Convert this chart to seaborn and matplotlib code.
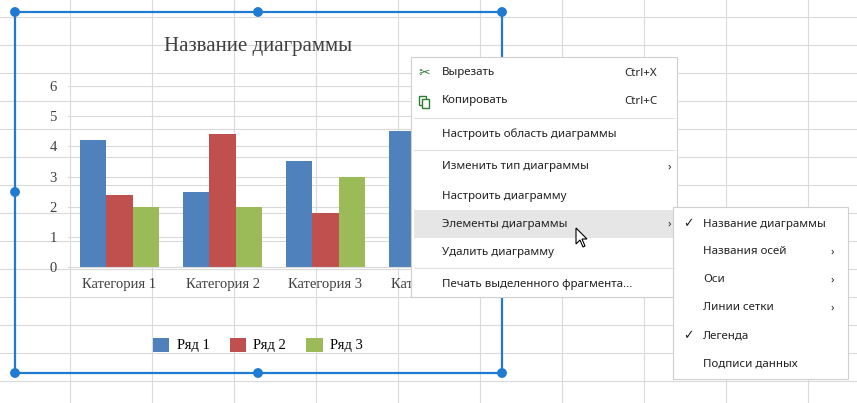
import matplotlib
matplotlib.use("Agg")
import matplotlib.pyplot as plt
import seaborn as sns
import pandas as pd
from matplotlib.patches import Rectangle, Circle, Polygon

categories = ["Категория 1", "Категория 2", "Категория 3", "Категория 4"]
series_names = ["Ряд 1", "Ряд 2", "Ряд 3"]
values_1 = [4.2, 2.5, 3.5, 4.5]
values_2 = [2.4, 4.4, 1.8, 2.8]
values_3 = [2.0, 2.0, 3.0, 5.0]
colors = ["#4f81bd", "#c0504d", "#9bbb59"]

menu_items = ["Вырезать", "Копировать", "Настроить область диаграммы",
              "Изменить тип диаграммы", "Настроить диаграмму",
              "Элементы диаграммы", "Удалить диаграмму",
              "Печать выделенного фрагмента..."]
menu_y = [73, 101, 134, 167, 196, 224, 252, 285]
shortcuts = {"Вырезать": "Ctrl+X", "Копировать": "Ctrl+C"}
sub_items = ["Название диаграммы", "Названия осей", "Оси", "Линии сетки",
             "Легенда", "Подписи данных"]
sub_y = [224, 252, 280, 308, 336, 364]

df = pd.DataFrame({
    "cat": categories * 3,
    "series": [s for s in series_names for _ in categories],
    "val": values_1 + values_2 + values_3,
})

W, H = 857, 403
fig = plt.figure(figsize=(W / 100, H / 100), dpi=100)

# spreadsheet background
bg = fig.add_axes([0, 0, 1, 1], zorder=0)
bg.set_xlim(0, W); bg.set_ylim(H, 0); bg.axis("off")
for x in range(70, W, 82):
    bg.plot([x, x], [0, H], color="#dadada", lw=0.8)
for y in range(17, H, 28):
    bg.plot([0, W], [y, y], color="#dadada", lw=0.8)
bg.add_patch(Rectangle((15, 12), 487, 361, facecolor="white", edgecolor="none"))

# chart
ax = fig.add_axes([68 / W, (H - 267) / H, (480 - 68) / W, (267 - 86) / H], zorder=1)
sns.barplot(data=df, x="cat", y="val", hue="series", palette=colors,
            width=0.76, saturation=1, ax=ax)
ax.set_ylim(0, 6)
ax.set_yticks(range(7))
ax.set_xlabel(""); ax.set_ylabel("")
ax.set_facecolor("none")
for s in ["top", "right", "left"]:
    ax.spines[s].set_visible(False)
ax.spines["bottom"].set_color("#d9d9d9")
ax.grid(axis="y", color="#d9d9d9", lw=0.8)
ax.set_axisbelow(True)
ax.tick_params(length=0, labelsize=10.5, colors="#404040", pad=8)
for lab in ax.get_xticklabels() + ax.get_yticklabels():
    lab.set_fontfamily("Liberation Serif")
ax.legend(loc="center", bbox_to_anchor=(258 / W, (H - 345) / H),
          bbox_transform=fig.transFigure, ncol=3, frameon=False,
          prop={"family": "Liberation Serif", "size": 10.5},
          handlelength=1.1, handleheight=1.1, columnspacing=1.4, handletextpad=0.5)
fig.text(258 / W, (H - 47) / H, "Название диаграммы", ha="center", va="center",
         fontsize=15, family="Liberation Serif", color="#404040")

# overlay: selection frame and menus
ov = fig.add_axes([0, 0, 1, 1], zorder=2)
ov.set_xlim(0, W); ov.set_ylim(H, 0); ov.axis("off")
blue = "#1f7ad1"
ov.add_patch(Rectangle((15, 12), 487, 361, fill=False, edgecolor=blue, lw=1.6))
for hx, hy in [(15, 12), (258, 12), (502, 12), (15, 192), (502, 192),
               (15, 373), (258, 373), (502, 373)]:
    ov.add_patch(Circle((hx, hy), 4.2, color=blue))

font = {"family": ["Noto Sans", "DejaVu Sans"], "fontsize": 8.3, "color": "#222222"}
ov.add_patch(Rectangle((411, 57), 266, 240, facecolor="white", edgecolor="#cfcfcf", lw=0.8))
ov.add_patch(Rectangle((414, 210), 263, 28, facecolor="#e6e6e6", edgecolor="none"))
for yy in [118, 150, 268]:
    ov.plot([414, 674], [yy, yy], color="#e0e0e0", lw=0.8)
for name, yy in zip(menu_items, menu_y):
    ov.text(442, yy, name, va="center", **font)
    if name in shortcuts:
        ov.text(624, yy, shortcuts[name], va="center", **font)
    if name in ("Изменить тип диаграммы", "Элементы диаграммы"):
        ov.text(668, yy, "›", va="center", **font)
ov.text(424, 73, "✂", va="center", ha="center", fontsize=10, color="#2e7d32", family="DejaVu Sans")
ov.add_patch(Rectangle((419, 96), 7, 9, fill=False, edgecolor="#2e7d32", lw=1))
ov.add_patch(Rectangle((422, 99), 7, 9, facecolor="white", edgecolor="#2e7d32", lw=1))

ov.add_patch(Rectangle((673, 207), 175, 172, facecolor="white", edgecolor="#cfcfcf", lw=0.8))
for name, yy in zip(sub_items, sub_y):
    ov.text(703, yy, name, va="center", **font)
    if name in ("Названия осей", "Оси", "Линии сетки"):
        ov.text(831, yy, "›", va="center", **font)
    if name in ("Название диаграммы", "Легенда"):
        ov.text(688, yy, "✓", va="center", ha="center", family="DejaVu Sans",
                fontsize=9, color="#222222")

ov.add_patch(Polygon([(576, 228), (576, 244), (580, 240), (583, 247), (585, 246),
                      (582, 239), (587, 239)], closed=True, facecolor="white",
                     edgecolor="black", lw=0.8))

fig.savefig("out.png", dpi=100)
